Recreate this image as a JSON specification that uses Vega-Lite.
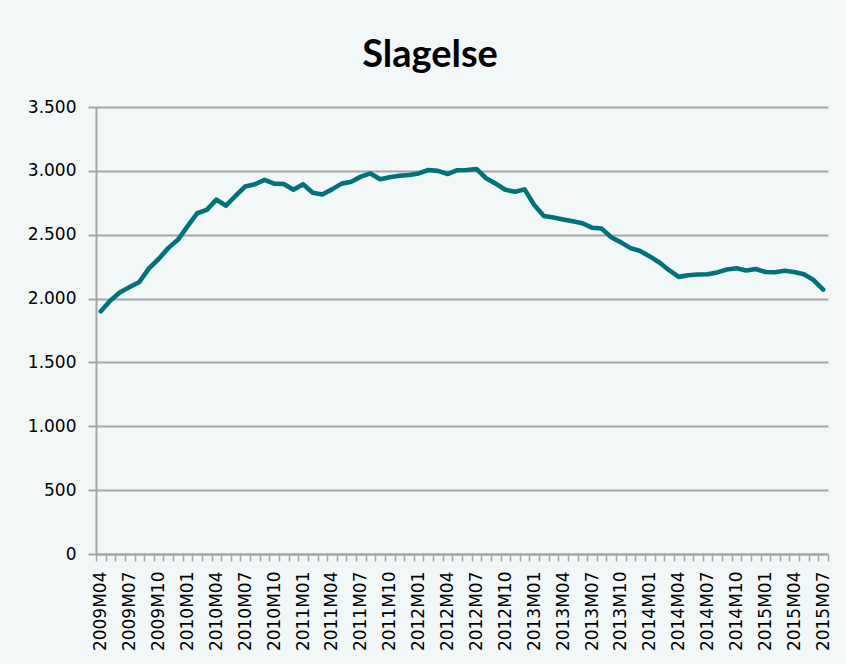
{
  "$schema": "https://vega.github.io/schema/vega-lite/v6.json",
  "autosize": "none",
  "width": 732,
  "height": 447,
  "padding": {"left": 96, "top": 107, "right": 18, "bottom": 110},
  "background": "#f2f7f8",
  "config": {"view": {"stroke": null}},
  "title": {
    "text": "Slagelse",
    "font": "Lato",
    "fontSize": 38,
    "fontWeight": "bold",
    "color": "#000000",
    "anchor": "middle",
    "dx": -32,
    "baseline": "alphabetic",
    "offset": -7
  },
  "data": {
    "values": [
      {"m": "2009M04", "v": 1900}, {"m": "2009M05", "v": 1985}, {"m": "2009M06", "v": 2050},
      {"m": "2009M07", "v": 2090}, {"m": "2009M08", "v": 2130}, {"m": "2009M09", "v": 2237},
      {"m": "2009M10", "v": 2310}, {"m": "2009M11", "v": 2395}, {"m": "2009M12", "v": 2460},
      {"m": "2010M01", "v": 2565}, {"m": "2010M02", "v": 2668}, {"m": "2010M03", "v": 2695},
      {"m": "2010M04", "v": 2775}, {"m": "2010M05", "v": 2727}, {"m": "2010M06", "v": 2805},
      {"m": "2010M07", "v": 2878}, {"m": "2010M08", "v": 2895}, {"m": "2010M09", "v": 2930},
      {"m": "2010M10", "v": 2900}, {"m": "2010M11", "v": 2897}, {"m": "2010M12", "v": 2852},
      {"m": "2011M01", "v": 2895}, {"m": "2011M02", "v": 2829}, {"m": "2011M03", "v": 2815},
      {"m": "2011M04", "v": 2855}, {"m": "2011M05", "v": 2900}, {"m": "2011M06", "v": 2915},
      {"m": "2011M07", "v": 2955}, {"m": "2011M08", "v": 2980}, {"m": "2011M09", "v": 2935},
      {"m": "2011M10", "v": 2950}, {"m": "2011M11", "v": 2962}, {"m": "2011M12", "v": 2968},
      {"m": "2012M01", "v": 2980}, {"m": "2012M02", "v": 3007}, {"m": "2012M03", "v": 3000},
      {"m": "2012M04", "v": 2975}, {"m": "2012M05", "v": 3005}, {"m": "2012M06", "v": 3007},
      {"m": "2012M07", "v": 3015}, {"m": "2012M08", "v": 2942}, {"m": "2012M09", "v": 2900},
      {"m": "2012M10", "v": 2852}, {"m": "2012M11", "v": 2837}, {"m": "2012M12", "v": 2855},
      {"m": "2013M01", "v": 2733}, {"m": "2013M02", "v": 2647}, {"m": "2013M03", "v": 2634},
      {"m": "2013M04", "v": 2620}, {"m": "2013M05", "v": 2605}, {"m": "2013M06", "v": 2590},
      {"m": "2013M07", "v": 2555}, {"m": "2013M08", "v": 2548}, {"m": "2013M09", "v": 2480},
      {"m": "2013M10", "v": 2440}, {"m": "2013M11", "v": 2395}, {"m": "2013M12", "v": 2372},
      {"m": "2014M01", "v": 2330}, {"m": "2014M02", "v": 2282}, {"m": "2014M03", "v": 2222},
      {"m": "2014M04", "v": 2170}, {"m": "2014M05", "v": 2183}, {"m": "2014M06", "v": 2188},
      {"m": "2014M07", "v": 2190}, {"m": "2014M08", "v": 2205}, {"m": "2014M09", "v": 2228},
      {"m": "2014M10", "v": 2237}, {"m": "2014M11", "v": 2220}, {"m": "2014M12", "v": 2232},
      {"m": "2015M01", "v": 2208}, {"m": "2015M02", "v": 2206}, {"m": "2015M03", "v": 2218},
      {"m": "2015M04", "v": 2208}, {"m": "2015M05", "v": 2190}, {"m": "2015M06", "v": 2145},
      {"m": "2015M07", "v": 2070}
    ]
  },
  "mark": {"type": "line", "color": "#00727a", "strokeWidth": 4.6, "strokeJoin": "round", "strokeCap": "round"},
  "encoding": {
    "x": {
      "field": "m",
      "type": "ordinal",
      "sort": null,
      "bandPosition": 0.5,
      "scale": {"type": "band", "paddingInner": 0, "paddingOuter": 0},
      "axis": {
        "title": null,
        "tickBand": "extent",
        "labelAngle": -90,
        "labelFont": "DejaVu Sans",
        "labelFontSize": 17,
        "labelColor": "#000000",
        "labelPadding": 10,
        "labelOverlap": false,
        "tickSize": 7,
        "tickColor": "#a6a6a6",
        "tickWidth": 1.5,
        "domainColor": "#a6a6a6",
        "domainWidth": 2,
        "grid": false,
        "labelExpr": "indexof(['M01','M04','M07','M10'], substring(datum.value, 4, 7)) >= 0 ? datum.value : ''"
      }
    },
    "y": {
      "field": "v",
      "type": "quantitative",
      "scale": {"domain": [0, 3500], "nice": false, "zero": true},
      "axis": {
        "title": null,
        "values": [0, 500, 1000, 1500, 2000, 2500, 3000, 3500],
        "labelExpr": "replace(format(datum.value, ','), ',', '.')",
        "labelFont": "DejaVu Sans",
        "labelFontSize": 17,
        "labelColor": "#000000",
        "labelPadding": 12,
        "tickSize": 8,
        "tickColor": "#a6a6a6",
        "tickWidth": 2,
        "domainColor": "#a6a6a6",
        "domainWidth": 2,
        "grid": true,
        "gridColor": "#a6a6a6",
        "gridWidth": 2
      }
    }
  }
}
